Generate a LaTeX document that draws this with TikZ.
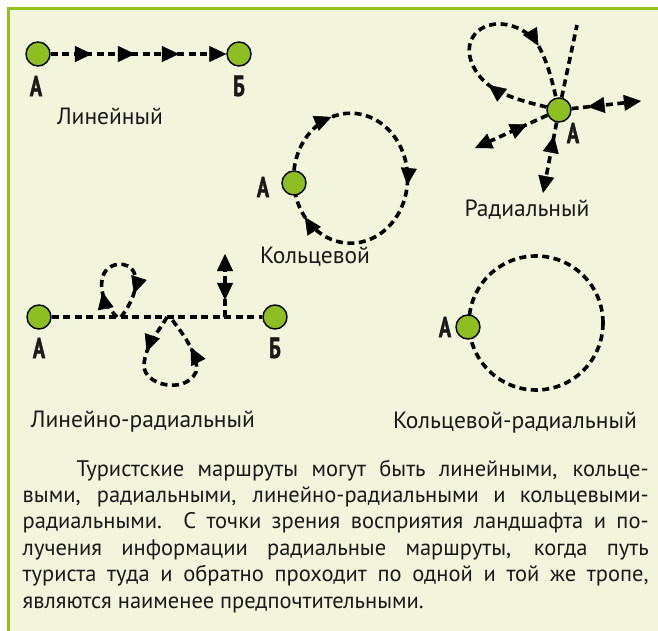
\documentclass[tikz,border=0pt]{standalone}
\usepackage{fontspec}
\setmainfont{PT Sans}
\newfontfamily\labfont{PT Sans}[FakeStretch=0.7, FakeBold=1.5]
\usetikzlibrary{arrows.meta,decorations.markings}
\definecolor{bgc}{HTML}{F2F4DC}
\definecolor{framec}{HTML}{95C11F}
\definecolor{dotc}{HTML}{8DBE22}
\definecolor{ink}{HTML}{1A1A1A}
\pgfdeclarelayer{bglayer}
\pgfdeclarelayer{linelayer}
\pgfsetlayers{bglayer,linelayer,main}
\tikzset{
  tri/.tip={Triangle[length=17pt 0 0,width=16pt 0 0,line width=0.5pt]},
  route/.style={line width=3.6pt, dash pattern=on 7pt off 4.5pt, black},
  marks/.style={postaction={decorate,decoration={markings,#1}}},
  stop/.style={circle, draw=black, line width=1.4pt, fill=dotc, minimum size=24pt, inner sep=0pt},
  lab/.style={font=\labfont\bfseries\fontsize{29}{29}\selectfont, text=ink, inner sep=0pt},
  captxt/.style={font=\fontsize{23.5}{26}\selectfont, text=ink, inner sep=0pt},
  ringc/.style={circle, draw=black, line width=3.6pt, dash pattern=on 7pt off 4.5pt, minimum size=134pt, inner sep=0pt}
}
\begin{document}
\begin{tikzpicture}[x=1pt,y=-1pt]
\useasboundingbox (0,0) rectangle (658,631);
\begin{pgfonlayer}{bglayer}
\fill[white] (0,0) rectangle (658,631);
\fill[bgc] (8,8) rectangle (658,631);
\draw[framec, line width=2.5pt] (8.3,631) -- (8.3,8.3) -- (658,8.3);
\end{pgfonlayer}

% ---------- Linear ----------
\node[stop] (A1) at (38,54) {};
\node[stop] (B1) at (239,54) {};
\node[lab] (A1l) at (36,86) {А};
\node[lab] (B1l) at (239,86) {Б};
\node[captxt] (c1) at (110,116) {Линейный};

% ---------- Ring ----------
\node[stop] (A2) at (294,183) {};
\node[lab] (A2l) at (263,187) {А};
\node[captxt] (c2) at (315,257) {Кольцевой};

% ---------- Radial ----------
\node[stop] (rA) at (559,110) {};
\node[lab] (rAl) at (573,133) {А};
\coordinate (rU) at (577,25);
\coordinate (rR) at (641,101);
\coordinate (rL) at (475,148);
\coordinate (rD) at (543,193);
\node[captxt] (c3) at (527,210) {Радиальный};

% ---------- Linear-radial ----------
\node[stop] (lA) at (39,317) {};
\node[stop] (lB) at (275,317) {};
\node[lab] (lAl) at (39,348) {А};
\node[lab] (lBl) at (275,348) {Б};
\coordinate (lu1) at (117,317);
\coordinate (lu2) at (121,317);
\coordinate (ld1) at (167,317);
\coordinate (ld2) at (170,317);
\coordinate (ls) at (225,317);
\coordinate (lt) at (225,254);
\node[captxt] (c4) at (143,422) {Линейно-радиальный};

% ---------- Ring-radial ----------
\node[stop] (A3) at (468,327) {};
\node[lab] (A3l) at (445,327) {А};
\node[captxt] (c5) at (515,423) {Кольцевой-радиальный};

\begin{pgfonlayer}{linelayer}
% linear
\draw[route, -tri, marks={mark=at position 0.235 with {\arrow{tri}}, mark=at position 0.48 with {\arrow{tri}}, mark=at position 0.73 with {\arrow{tri}}}] (A1) -- (B1);
% ring
\draw[route, marks={mark=at position 0.19 with {\arrow{tri}}, mark=at position 0.53 with {\arrow{tri}}, mark=at position 0.93 with {\arrow{tri}}}]
  (A2.north) arc[start angle=187, end angle=526, x radius=57, y radius=65];
% radial
\draw[route, marks={mark=at position 0.25 with {\arrow{tri}}, mark=at position 0.78 with {\arrow{tri}}}]
  (rA) .. controls (530,103) and (500,96) .. (485,82)
       .. controls (470,68) and (462,45) .. (478,31)
       .. controls (495,17) and (525,25) .. (538,45)
       .. controls (548,62) and (553,85) .. (rA);
\draw[route] (rA) -- (rU);
\draw[route, -tri, marks={mark=at position 0.23 with {\arrowreversed{tri}}}] (rA) -- (rR);
\draw[route, -tri, marks={mark=at position 0.28 with {\arrowreversed{tri}}}] (rA) -- (rL);
\draw[route, -tri, marks={mark=at position 0.19 with {\arrowreversed{tri}}}] (rA) -- (rD);
% linear-radial
\draw[route] (lA) -- (lB);
\draw[route, marks={mark=at position 0.22 with {\arrow{tri}}, mark=at position 0.8 with {\arrow{tri}}}]
  (lu1) .. controls (105,305) and (100,292) .. (102,280)
        .. controls (104,262) and (130,258) .. (135,275)
        .. controls (139,290) and (128,308) .. (lu2);
\draw[route, marks={mark=at position 0.22 with {\arrow{tri}}, mark=at position 0.8 with {\arrow{tri}}}]
  (ld1) .. controls (160,330) and (145,345) .. (144,365)
        .. controls (143,385) and (185,395) .. (196,372)
        .. controls (200,355) and (180,330) .. (ld2);
\draw[route, -tri, marks={mark=at position 0.27 with {\arrowreversed{tri}}}] (ls) -- (lt);
% ring-radial
\node[ringc] (rr) at (536,323) {};
\end{pgfonlayer}

% ---------- Body text ----------
\node[anchor=base west, inner sep=0pt, text=ink] (body) at (22.5,476) {\parbox[t]{626pt}{\fontsize{22.5}{26.4}\selectfont
\makebox[626pt][s]{\hspace*{54pt}Туристские маршруты могут быть линейными, кольце-}\\
\makebox[626pt][s]{выми, радиальными, линейно-радиальными и кольцевыми-}\\
\makebox[626pt][s]{радиальными. С точки зрения восприятия ландшафта и по-}\\
\makebox[626pt][s]{лучения информации радиальные маршруты, когда путь}\\
\makebox[626pt][s]{туриста туда и обратно проходит по одной и той же тропе,}\\
являются наименее предпочтительными.}};
\end{tikzpicture}
\end{document}
